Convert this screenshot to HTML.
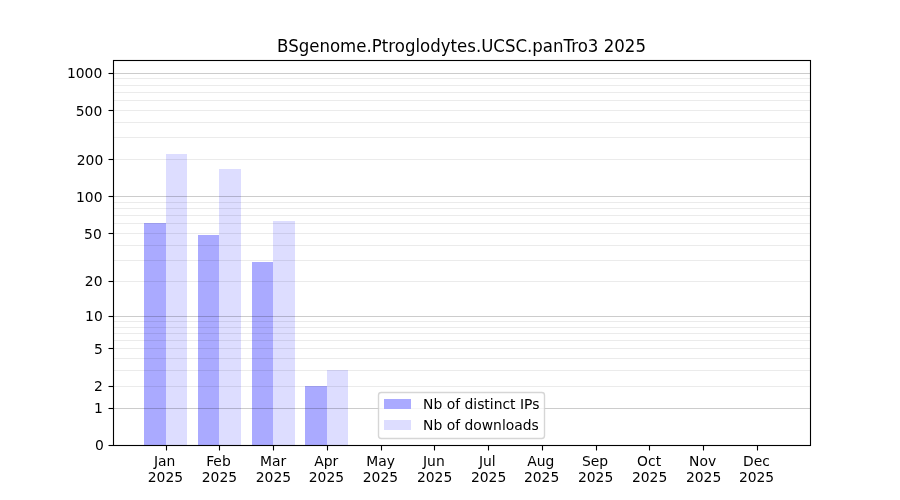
<!DOCTYPE html>
<html lang="en">
<head>
<meta charset="utf-8">
<title>BSgenome.Ptroglodytes.UCSC.panTro3 2025</title>
<style>
html,body{margin:0;padding:0;background:#ffffff;}
body{width:900px;height:500px;overflow:hidden;}
svg{display:block;will-change:transform;}
text{font-family:"DejaVu Sans","Liberation Sans",sans-serif;fill:#000000;text-rendering:auto;}
.t10{font-size:13.889px;}
.t12{font-size:16.6px;}
.bar1{fill:#aaaaff;}
.bar2{fill:#ddddff;}
.gmaj{fill:#000000;fill-opacity:0.2;}
.gmin{fill:#000000;fill-opacity:0.08;}
.tick{stroke:#000000;stroke-width:1.111;fill:none;}
</style>
</head>
<body>
<svg width="900" height="500" viewBox="0 0 900 500">
<rect x="0" y="0" width="900" height="500" fill="#ffffff"/>

<g id="bars" shape-rendering="crispEdges">
<rect class="bar1" x="144" y="223" width="22" height="222"/>
<rect class="bar2" x="166" y="154" width="21" height="291"/>
<rect class="bar1" x="198" y="235" width="21" height="210"/>
<rect class="bar2" x="219" y="169" width="22" height="276"/>
<rect class="bar1" x="252" y="262" width="21" height="183"/>
<rect class="bar2" x="273" y="221" width="22" height="224"/>
<rect class="bar1" x="305" y="386" width="22" height="59"/>
<rect class="bar2" x="327" y="370" width="21" height="75"/>
</g>
<g id="grid" shape-rendering="crispEdges">
<rect class="gmin" x="114" y="386" width="696" height="1"/>
<rect class="gmin" x="114" y="370" width="696" height="1"/>
<rect class="gmin" x="114" y="358" width="696" height="1"/>
<rect class="gmin" x="114" y="348" width="696" height="1"/>
<rect class="gmin" x="114" y="340" width="696" height="1"/>
<rect class="gmin" x="114" y="333" width="696" height="1"/>
<rect class="gmin" x="114" y="327" width="696" height="1"/>
<rect class="gmin" x="114" y="321" width="696" height="1"/>
<rect class="gmin" x="114" y="281" width="696" height="1"/>
<rect class="gmin" x="114" y="260" width="696" height="1"/>
<rect class="gmin" x="114" y="245" width="696" height="1"/>
<rect class="gmin" x="114" y="233" width="696" height="1"/>
<rect class="gmin" x="114" y="223" width="696" height="1"/>
<rect class="gmin" x="114" y="215" width="696" height="1"/>
<rect class="gmin" x="114" y="208" width="696" height="1"/>
<rect class="gmin" x="114" y="202" width="696" height="1"/>
<rect class="gmin" x="114" y="159" width="696" height="1"/>
<rect class="gmin" x="114" y="137" width="696" height="1"/>
<rect class="gmin" x="114" y="122" width="696" height="1"/>
<rect class="gmin" x="114" y="110" width="696" height="1"/>
<rect class="gmin" x="114" y="100" width="696" height="1"/>
<rect class="gmin" x="114" y="92" width="696" height="1"/>
<rect class="gmin" x="114" y="85" width="696" height="1"/>
<rect class="gmin" x="114" y="78" width="696" height="1"/>
<rect class="gmaj" x="114" y="408" width="696" height="1"/>
<rect class="gmaj" x="114" y="316" width="696" height="1"/>
<rect class="gmaj" x="114" y="196" width="696" height="1"/>
<rect class="gmaj" x="114" y="73" width="696" height="1"/>
</g>
<rect x="113.5" y="60.5" width="697" height="385" fill="none" stroke="#000000" stroke-width="1.111"/>
<g id="ticks">
<line class="tick" x1="166.5" y1="445.5" x2="166.5" y2="450.5"/>
<line class="tick" x1="219.5" y1="445.5" x2="219.5" y2="450.5"/>
<line class="tick" x1="273.5" y1="445.5" x2="273.5" y2="450.5"/>
<line class="tick" x1="327.5" y1="445.5" x2="327.5" y2="450.5"/>
<line class="tick" x1="381.5" y1="445.5" x2="381.5" y2="450.5"/>
<line class="tick" x1="434.5" y1="445.5" x2="434.5" y2="450.5"/>
<line class="tick" x1="488.5" y1="445.5" x2="488.5" y2="450.5"/>
<line class="tick" x1="542.5" y1="445.5" x2="542.5" y2="450.5"/>
<line class="tick" x1="596.5" y1="445.5" x2="596.5" y2="450.5"/>
<line class="tick" x1="649.5" y1="445.5" x2="649.5" y2="450.5"/>
<line class="tick" x1="703.5" y1="445.5" x2="703.5" y2="450.5"/>
<line class="tick" x1="757.5" y1="445.5" x2="757.5" y2="450.5"/>
<line class="tick" x1="108.5" y1="445.5" x2="113.5" y2="445.5"/>
<line class="tick" x1="108.5" y1="408.5" x2="113.5" y2="408.5"/>
<line class="tick" x1="108.5" y1="386.5" x2="113.5" y2="386.5"/>
<line class="tick" x1="108.5" y1="348.5" x2="113.5" y2="348.5"/>
<line class="tick" x1="108.5" y1="316.5" x2="113.5" y2="316.5"/>
<line class="tick" x1="108.5" y1="281.5" x2="113.5" y2="281.5"/>
<line class="tick" x1="108.5" y1="233.5" x2="113.5" y2="233.5"/>
<line class="tick" x1="108.5" y1="196.5" x2="113.5" y2="196.5"/>
<line class="tick" x1="108.5" y1="159.5" x2="113.5" y2="159.5"/>
<line class="tick" x1="108.5" y1="110.5" x2="113.5" y2="110.5"/>
<line class="tick" x1="108.5" y1="73.5" x2="113.5" y2="73.5"/>
</g>
<g id="ylabels" class="t10" text-anchor="end">
<text x="103.78" y="450.00">0</text>
<text x="102.78" y="413.00">1</text>
<text x="102.78" y="391.00">2</text>
<text x="102.78" y="353.50">5</text>
<text x="102.78" y="321.00">10</text>
<text x="102.53" y="286.00">20</text>
<text x="101.78" y="238.50">50</text>
<text x="102.53" y="201.50">100</text>
<text x="103.28" y="164.50">200</text>
<text x="102.28" y="115.50">500</text>
<text x="102.28" y="78.00">1000</text>
</g>
<g id="xlabels" class="t10" text-anchor="middle">
<text x="164.70" y="465.50">Jan</text><text x="165.45" y="481.50">2025</text>
<text x="218.44" y="465.50">Feb</text><text x="219.44" y="481.50">2025</text>
<text x="273.17" y="465.50">Mar</text><text x="273.42" y="481.50">2025</text>
<text x="326.16" y="465.50">Apr</text><text x="326.41" y="481.50">2025</text>
<text x="380.65" y="465.50">May</text><text x="380.40" y="481.50">2025</text>
<text x="433.88" y="465.50">Jun</text><text x="434.63" y="481.50">2025</text>
<text x="487.37" y="465.50">Jul</text><text x="488.62" y="481.50">2025</text>
<text x="540.86" y="465.50">Aug</text><text x="541.61" y="481.50">2025</text>
<text x="595.09" y="465.50">Sep</text><text x="595.59" y="481.50">2025</text>
<text x="649.08" y="465.50">Oct</text><text x="649.58" y="481.50">2025</text>
<text x="702.57" y="465.50">Nov</text><text x="703.57" y="481.50">2025</text>
<text x="756.55" y="465.50">Dec</text><text x="756.55" y="481.50">2025</text>
</g>
<text class="t12" text-anchor="middle" transform="matrix(1 0 0 1.07 461.5 51.5)" x="0" y="0">BSgenome.Ptroglodytes.UCSC.panTro3 2025</text>
<g id="legend">
<rect x="378.5" y="392.5" width="166" height="46" rx="2.78" ry="2.78" fill="#ffffff" fill-opacity="0.8" stroke="#cccccc" stroke-opacity="0.8" stroke-width="1.389"/>
<rect class="bar1" x="384" y="399" width="27" height="10" shape-rendering="crispEdges"/>
<rect class="bar2" x="384" y="420" width="27" height="10" shape-rendering="crispEdges"/>
<text class="t10" x="423.1" y="408.5">Nb of distinct IPs</text>
<text class="t10" x="423.1" y="429.5">Nb of downloads</text>
</g>
</svg>
</body>
</html>
